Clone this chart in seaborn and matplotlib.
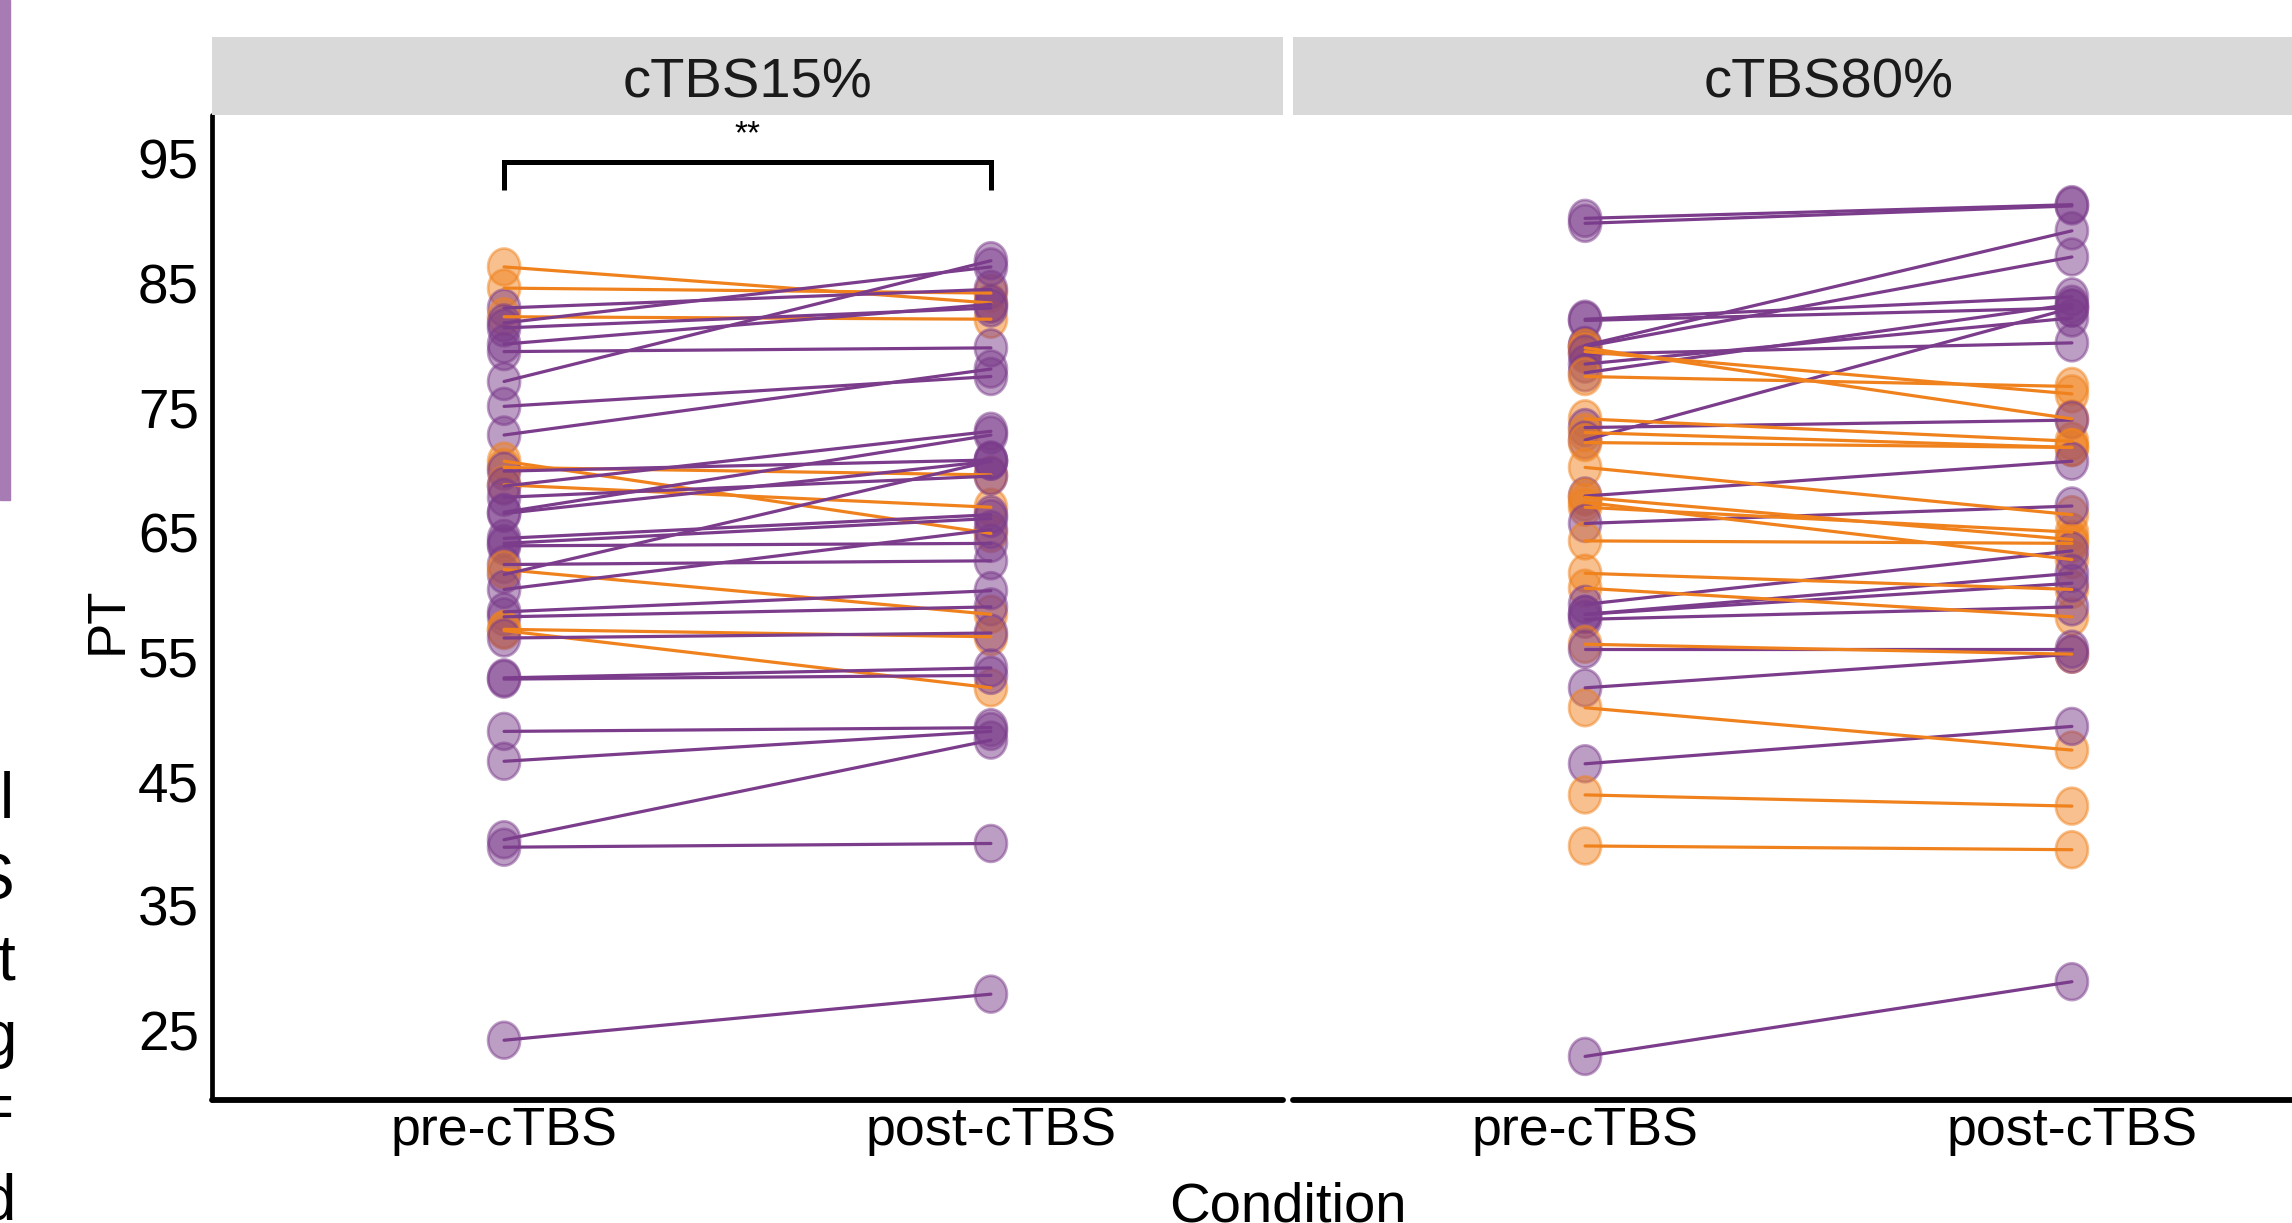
import numpy as np
import pandas as pd
import matplotlib
matplotlib.use("Agg")
import matplotlib.pyplot as plt
import seaborn as sns
from matplotlib import font_manager
from matplotlib.path import Path

# ---------------- data ----------------
panels = ["cTBS15%", "cTBS80%"]
conditions = ["pre-cTBS", "post-cTBS"]
y_ticks = [25, 35, 45, 55, 65, 75, 85, 95]

# cTBS15%  (P = purple group, O = orange group)
group_15 = ["O", "O", "P", "O", "P", "P", "P", "P", "P", "P", "P",
            "O", "O", "P", "O", "P", "P", "P", "P", "P", "P", "P", "P", "P",
            "O", "P", "P", "P", "O", "O", "P", "P", "P", "P", "P", "P", "P", "P"]
pre_15 = [86.3, 84.6, 83.0, 82.3, 81.8, 81.4, 80.1, 79.5, 77.1, 75.1, 72.8,
          70.7, 70.2, 69.9, 68.8, 68.7, 67.8, 66.6, 66.5, 64.5, 64.1, 63.9, 62.4, 61.6,
          62.0, 60.4, 58.6, 58.2, 57.2, 57.1, 56.5, 53.3, 53.2, 49.0, 46.6, 40.3, 39.7, 24.2]
post_15 = [83.4, 84.2, 84.5, 82.1, 86.3, 83.0, 83.3, 79.8, 86.8, 77.5, 78.1,
           64.9, 69.6, 70.8, 67.0, 73.1, 69.5, 72.8, 70.7, 66.4, 66.1, 64.1, 62.7, 70.7,
           58.4, 65.2, 60.3, 59.0, 56.6, 52.5, 56.9, 54.1, 53.5, 49.3, 49.0, 48.3, 40.0, 27.9]

# cTBS80%
group_80 = ["P", "P", "P", "P", "P", "P", "O", "O", "P", "P", "P", "O",
            "O", "P", "O", "P", "O", "O", "P", "O", "O", "O", "P", "O",
            "O", "O", "P", "P", "P", "P", "O", "P", "P", "O", "P", "O", "O", "P"]
pre_80 = [90.2, 89.8, 82.1, 82.0, 80.0, 79.9, 79.8, 79.5, 79.3, 78.5, 77.8, 77.5,
          74.1, 73.4, 73.0, 72.4, 72.2, 70.2, 67.9, 67.8, 67.4, 67.0, 65.7, 64.3,
          61.7, 60.5, 59.2, 58.4, 58.4, 58.0, 56.0, 55.6, 52.5, 50.9, 46.4, 43.9, 39.8, 22.9]
post_80 = [91.3, 91.2, 83.9, 83.0, 89.2, 87.1, 74.1, 76.1, 80.2, 82.2, 83.3, 76.7,
           72.3, 74.0, 71.8, 83.0, 71.8, 66.4, 70.7, 64.4, 62.8, 65.0, 67.1, 64.1,
           60.4, 58.2, 63.5, 61.7, 60.9, 59.0, 55.2, 55.6, 55.2, 47.5, 49.4, 43.0, 39.5, 28.9]

palette = {"P": "#7B3C8B", "O": "#F0821E"}

rows = []
for panel, grp, pre, post in [(panels[0], group_15, pre_15, post_15),
                              (panels[1], group_80, pre_80, post_80)]:
    for i, (g, a, b) in enumerate(zip(grp, pre, post)):
        rows.append({"panel": panel, "subject": f"{panel}_{i}", "group": g,
                     "Condition": conditions[0], "x": 0, "PT": a})
        rows.append({"panel": panel, "subject": f"{panel}_{i}", "group": g,
                     "Condition": conditions[1], "x": 1, "PT": b})
df = pd.DataFrame(rows)

# ---------------- style ----------------
sns.set_style("white")
names = {f.name for f in font_manager.fontManager.ttflist}
if "Liberation Sans Narrow" in names:
    NARROW, SCALE, XSCALE = "Liberation Sans Narrow", 1.0, 1.0
else:
    NARROW, SCALE, XSCALE = "Liberation Sans", 0.92, 0.88
plt.rcParams["font.family"] = [NARROW, "Liberation Sans", "DejaVu Sans"]
plt.rcParams["text.color"] = "black"
plt.rcParams["axes.edgecolor"] = "black"
plt.rcParams["xtick.color"] = "black"
plt.rcParams["ytick.color"] = "black"
plt.rcParams["xtick.labelcolor"] = "black"
plt.rcParams["ytick.labelcolor"] = "black"

W, H = 2292, 1223
fig = plt.figure(figsize=(W / 100, H / 100), dpi=100)
fig.patch.set_facecolor("white")


def fx(px):
    return px / W


def fy(py):
    return 1 - py / H


# elliptical marker (slightly taller than wide, as in the reference)
t = np.linspace(0, 2 * np.pi, 60)
ell_verts = np.column_stack([0.5 / 1.15 * np.cos(t), 0.5 * np.sin(t)])
ellipse = Path(ell_verts, closed=True)

ax_top, ax_bot = 115, 1100
panel_w = 1283 - 212
axes = []
for x0, panel in zip([212, 1293], panels):
    ax = fig.add_axes([fx(x0), fy(ax_bot), panel_w / W, (ax_bot - ax_top) / H])
    d = df[df["panel"] == panel]
    sns.scatterplot(data=d, x="x", y="PT", hue="group", palette=palette,
                    marker=ellipse, s=700, alpha=0.5, edgecolor="face",
                    linewidth=2, legend=False, ax=ax, zorder=2)
    sns.lineplot(data=d, x="x", y="PT", hue="group", units="subject",
                 estimator=None, palette=palette, linewidth=2.3,
                 legend=False, ax=ax, zorder=3)
    ax.set_xlim(-0.6, 1.6)
    ax.set_ylim(19.4, 98.5)
    ax.set_xticks([0, 1])
    ax.set_xticklabels(conditions, fontsize=44 * XSCALE, color="black")
    ax.set_xlabel("")
    ax.set_ylabel("")
    for s in ["top", "right"]:
        ax.spines[s].set_visible(False)
    ax.spines["bottom"].set_linewidth(4.2)
    ax.spines["bottom"].set_color("black")
    ax.spines["bottom"].set_capstyle("round")
    ax.tick_params(axis="x", length=3.5, width=2.5, pad=1, color="black")
    ax.set_facecolor("white")
    axes.append(ax)

    # facet strip
    sax = fig.add_axes([fx(x0), fy(ax_top), panel_w / W, 78 / H])
    sax.set_facecolor("#D9D9D9")
    for s in sax.spines.values():
        s.set_visible(False)
    sax.set_xticks([])
    sax.set_yticks([])
    sax.text(0.5, (115 - 98) / 78, panel, transform=sax.transAxes,
             ha="center", va="baseline", fontsize=45 * XSCALE * 1.02, color="#1A1A1A")

axl, axr = axes
axl.set_yticks(y_ticks)
axl.set_yticklabels([str(v) for v in y_ticks], fontsize=43 * SCALE, color="black")
axl.spines["left"].set_linewidth(3.4)
axl.spines["left"].set_color("black")
axl.spines["left"].set_capstyle("round")
axl.tick_params(axis="y", length=3.5, width=2.5, pad=6, color="black")
axr.spines["left"].set_visible(False)
axr.tick_params(axis="y", left=False, labelleft=False)

# significance bracket
axl.plot([0, 0, 1, 1], [92.5, 94.75, 94.75, 92.5], color="black", lw=3.6,
         solid_joinstyle="miter", solid_capstyle="butt", clip_on=False, zorder=5)
axl.text(0.5, 96.9, "**", ha="center", va="center", fontsize=24, color="black")

# axis titles
fig.text(fx(108), fy(620), "PT", rotation=90, ha="center", va="center",
         fontsize=38, family=["Liberation Sans", "DejaVu Sans"], color="black")
fig.text(fx(1288), fy(1222), "Condition", ha="center", va="baseline",
         fontsize=46 * XSCALE, color="black")

# fragments of the neighbouring figure panel at the left edge
fig.patches.append(plt.Rectangle((0, fy(500)), fx(10), 500 / H,
                                 transform=fig.transFigure, color="#A77BB3"))
for ch, base, xr in [("l", 818, 14), ("S", 900, 14), ("t", 979, 16),
                     ("g", 1056, 17), ("=", 1128, 14), ("d", 1220, 16)]:
    fig.text(fx(xr), fy(base), ch, ha="right", va="baseline", fontsize=46,
             family=["Liberation Sans", "DejaVu Sans"], color="black")

fig.savefig("out.png", dpi=100, facecolor="white")
